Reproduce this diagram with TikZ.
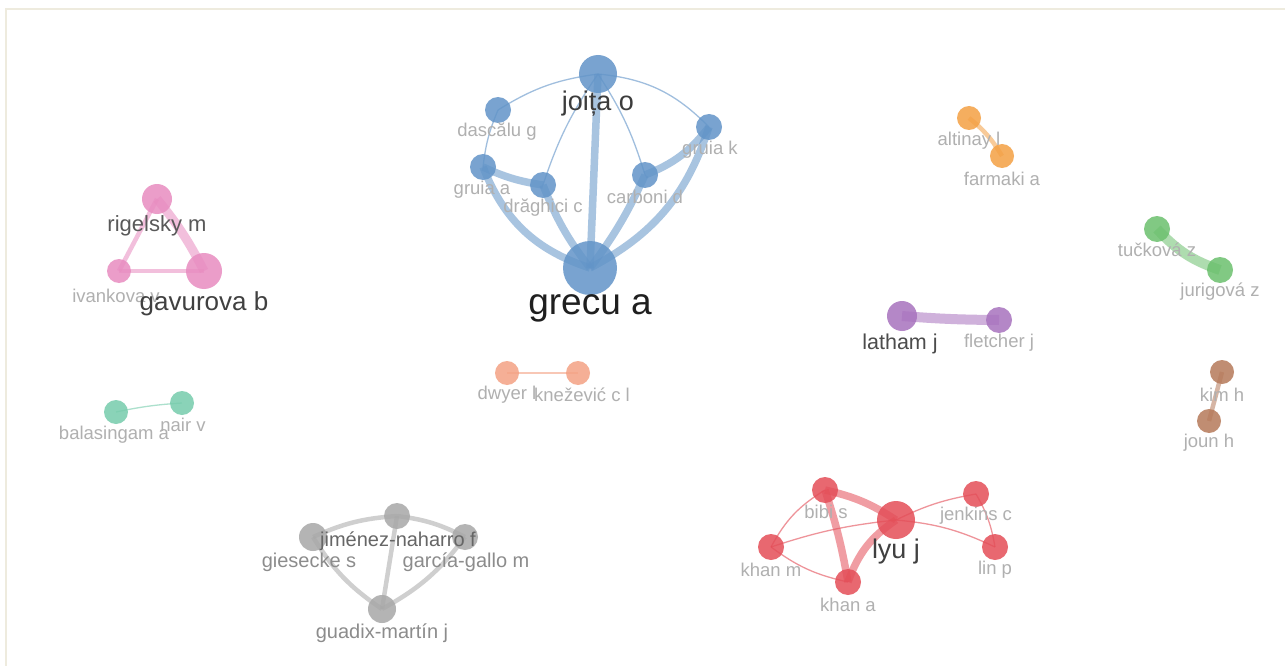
\documentclass[tikz,border=0pt]{standalone}
\usepackage{fontspec}
\setmainfont{Liberation Sans}
\pgfdeclarelayer{bg}
\pgfdeclarelayer{edges}
\pgfsetlayers{bg,edges,main}
\definecolor{cblue}{RGB}{98,148,200}
\definecolor{cpink}{RGB}{232,140,192}
\definecolor{cred}{RGB}{228,78,88}
\definecolor{cgray}{RGB}{168,168,168}
\definecolor{cgreen}{RGB}{108,192,110}
\definecolor{corange}{RGB}{244,160,68}
\definecolor{cpurple}{RGB}{168,114,190}
\definecolor{cbrown}{RGB}{182,122,90}
\definecolor{cteal}{RGB}{118,204,172}
\definecolor{csalmon}{RGB}{244,162,132}
\definecolor{lablight}{RGB}{176,176,176}
\definecolor{labmid}{RGB}{140,140,140}
\definecolor{labdark}{RGB}{60,60,60}
\definecolor{frame}{RGB}{238,235,222}
\tikzset{
  au/.style={circle,inner sep=0pt,minimum size=#1,fill opacity=0.85,draw=none},
  lab/.style={inner sep=0pt,yshift=-2pt,text=lablight,font=\fontsize{18.5}{18.5}\selectfont},
  labm/.style={inner sep=0pt,yshift=-2pt,text=labmid,font=\fontsize{20}{20}\selectfont},
  labd/.style={inner sep=0pt,yshift=-3pt,text=labdark,font=\fontsize{#1}{#1}\selectfont},
  thin link/.style={draw opacity=0.6,line width=1.3pt},
  mid link/.style={draw opacity=0.55,line width=4.5pt},
  thick link/.style={draw opacity=0.55,line width=7.5pt},
}
\begin{document}
\begin{tikzpicture}[x=1pt,y=-1pt]
\useasboundingbox (0,0) rectangle (1285,666);
\begin{pgfonlayer}{bg}
\fill[white] (0,0) rectangle (1285,666);
\draw[frame,line width=2pt] (6,666) -- (6,9) -- (1285,9);
\end{pgfonlayer}

% ---------------- blue cluster
\node[au=38pt,fill=cblue] (joita) at (598,74) {};
\node[au=26pt,fill=cblue] (dascalu) at (498,110) {};
\node[au=26pt,fill=cblue] (gruiaa) at (483,167) {};
\node[au=26pt,fill=cblue] (draghici) at (543,185) {};
\node[au=26pt,fill=cblue] (carboni) at (645,175) {};
\node[au=26pt,fill=cblue] (gruiak) at (709,127) {};
\node[au=54pt,fill=cblue] (grecu) at (590,268) {};
\node[labd=27] (ljoita) at (598,101) {joița o};
\node[lab] (ldascalu) at (497,130) {dascălu g};
\node[lab] (lgruiaa) at (482,188) {gruia a};
\node[lab] (ldraghici) at (543,206) {drăghici c};
\node[lab] (lgruiak) at (710,148) {gruia k};
\node[lab] (lcarboni) at (645,195) {carboni d};
\node[labd=37,text=black!88] (lgrecu) at (590,305) {grecu a};
\begin{pgfonlayer}{edges}
\draw[cblue,thin link] (joita.center) to[bend right=12] (dascalu.center);
\draw[cblue,thin link] (dascalu.center) to[bend right=8] (gruiaa.center);
\draw[cblue,thin link] (joita.center) to[bend right=8] (draghici.center);
\draw[cblue,thin link] (joita.center) to[bend left=8] (carboni.center);
\draw[cblue,thin link] (joita.center) to[bend left=20] (gruiak.center);
\draw[cblue,thick link] (joita.center) -- (grecu.center);
\draw[cblue,thick link] (gruiaa.center) to[bend right=8] (draghici.center);
\draw[cblue,thick link] (carboni.center) to[bend right=15] (gruiak.center);
\draw[cblue,thick link] (gruiaa.center) to[bend right=25] (grecu.center);
\draw[cblue,thick link] (draghici.center) to[bend right=8] (grecu.center);
\draw[cblue,thick link] (carboni.center) to[bend left=6] (grecu.center);
\draw[cblue,thick link] (gruiak.center) to[bend left=22] (grecu.center);
\end{pgfonlayer}

% ---------------- pink cluster
\node[au=30pt,fill=cpink] (rigelsky) at (157,199) {};
\node[au=24pt,fill=cpink] (ivankova) at (119,271) {};
\node[au=36pt,fill=cpink] (gavurova) at (204,271) {};
\node[labd=22,text=black!65] (lrigelsky) at (157,223) {rigelsky m};
\node[lab] (livankova) at (116,294) {ivankova v};
\node[labd=26,text=black!75] (lgavurova) at (204,301) {gavurova b};
\begin{pgfonlayer}{edges}
\draw[cpink,mid link] (rigelsky.center) -- (ivankova.center);
\draw[cpink,thick link,line width=9pt] (rigelsky.center) to[bend left=6] (gavurova.center);
\draw[cpink,mid link] (ivankova.center) -- (gavurova.center);
\end{pgfonlayer}

% ---------------- teal
\node[au=24pt,fill=cteal] (bala) at (116,412) {};
\node[au=24pt,fill=cteal] (nair) at (182,403) {};
\node[lab] (lbala) at (114,433) {balasingam a};
\node[lab] (lnair) at (183,423) {nair v};
\begin{pgfonlayer}{edges}
\draw[cteal,thin link] (bala.center) to[bend left=4] (nair.center);
\end{pgfonlayer}

% ---------------- salmon
\node[au=24pt,fill=csalmon] (dwyer) at (507,373) {};
\node[au=24pt,fill=csalmon] (knez) at (578,373) {};
\node[lab] (ldwyer) at (507,393) {dwyer l};
\node[lab] (lknez) at (582,393) {knežević c l};
\begin{pgfonlayer}{edges}
\draw[csalmon,thin link] (dwyer.center) -- (knez.center);
\end{pgfonlayer}

% ---------------- purple
\node[au=30pt,fill=cpurple] (latham) at (902,316) {};
\node[au=26pt,fill=cpurple] (fletcher) at (999,320) {};
\node[labd=21.5,text=black!70] (llatham) at (900,341) {latham j};
\node[lab] (lfletcher) at (999,341) {fletcher j};
\begin{pgfonlayer}{edges}
\draw[cpurple,thick link,line width=10pt] (latham.center) to[bend right=2] (fletcher.center);
\end{pgfonlayer}

% ---------------- orange
\node[au=24pt,fill=corange] (altinay) at (969,118) {};
\node[au=24pt,fill=corange] (farmaki) at (1002,156) {};
\node[lab] (laltinay) at (969,139) {altinay l};
\node[lab] (lfarmaki) at (1002,177) {farmaki a};
\begin{pgfonlayer}{edges}
\draw[corange,mid link] (altinay.center) to[bend left=10] (farmaki.center);
\end{pgfonlayer}

% ---------------- green
\node[au=26pt,fill=cgreen] (tuckova) at (1157,229) {};
\node[au=26pt,fill=cgreen] (jurigova) at (1220,270) {};
\node[lab] (ltuckova) at (1157,248) {tučková z};
\node[lab] (ljurigova) at (1220,290) {jurigová z};
\begin{pgfonlayer}{edges}
\draw[cgreen,thick link,line width=10pt] (tuckova.center) to[bend right=14] (jurigova.center);
\end{pgfonlayer}

% ---------------- brown
\node[au=24pt,fill=cbrown] (kim) at (1222,372) {};
\node[au=24pt,fill=cbrown] (joun) at (1209,421) {};
\node[lab] (lkim) at (1222,393) {kim h};
\node[lab] (ljoun) at (1209,441) {joun h};
\begin{pgfonlayer}{edges}
\draw[cbrown,mid link] (kim.center) -- (joun.center);
\end{pgfonlayer}

% ---------------- red cluster
\node[au=26pt,fill=cred] (bibi) at (825,490) {};
\node[au=38pt,fill=cred] (lyu) at (896,520) {};
\node[au=26pt,fill=cred] (jenkins) at (976,494) {};
\node[au=26pt,fill=cred] (khanm) at (771,547) {};
\node[au=26pt,fill=cred] (linp) at (995,547) {};
\node[au=26pt,fill=cred] (khana) at (848,582) {};
\node[lab] (lbibi) at (826,510) {bibi s};
\node[labd=27,text=black!75] (llyu) at (896,549) {lyu j};
\node[lab] (ljenkins) at (976,514) {jenkins c};
\node[lab] (lkhanm) at (771,568) {khan m};
\node[lab] (llinp) at (995,568) {lin p};
\node[lab] (lkhana) at (848,603) {khan a};
\begin{pgfonlayer}{edges}
\draw[cred,thick link] (bibi.center) to[bend left=10] (lyu.center);
\draw[cred,thick link] (bibi.center) to[bend left=4] (khana.center);
\draw[cred,thick link] (lyu.center) to[bend right=18] (khana.center);
\draw[cred,thin link] (bibi.center) to[bend right=15] (khanm.center);
\draw[cred,thin link] (khanm.center) to[bend left=6] (lyu.center);
\draw[cred,thin link] (khanm.center) to[bend right=12] (khana.center);
\draw[cred,thin link] (lyu.center) to[bend left=8] (jenkins.center);
\draw[cred,thin link] (lyu.center) to[bend left=10] (linp.center);
\draw[cred,thin link] (jenkins.center) to[bend left=10] (linp.center);
\end{pgfonlayer}

% ---------------- grey cluster
\node[au=26pt,fill=cgray] (jimenez) at (397,516) {};
\node[au=28pt,fill=cgray] (giesecke) at (313,537) {};
\node[au=26pt,fill=cgray] (garcia) at (465,537) {};
\node[au=28pt,fill=cgray] (guadix) at (382,609) {};
\node[labm,text=black!60] (ljimenez) at (398,539) {jiménez-naharro f};
\node[labm] (lgiesecke) at (309,560) {giesecke s};
\node[labm] (lgarcia) at (466,560) {garcía-gallo m};
\node[labm] (lguadix) at (382,631) {guadix-martín j};
\begin{pgfonlayer}{edges}
\draw[cgray,mid link] (giesecke.center) to[bend left=10] (jimenez.center);
\draw[cgray,mid link] (jimenez.center) to[bend left=10] (garcia.center);
\draw[cgray,mid link] (giesecke.center) to[bend right=12] (guadix.center);
\draw[cgray,mid link] (jimenez.center) -- (guadix.center);
\draw[cgray,mid link] (garcia.center) to[bend left=12] (guadix.center);
\end{pgfonlayer}
\end{tikzpicture}
\end{document}
